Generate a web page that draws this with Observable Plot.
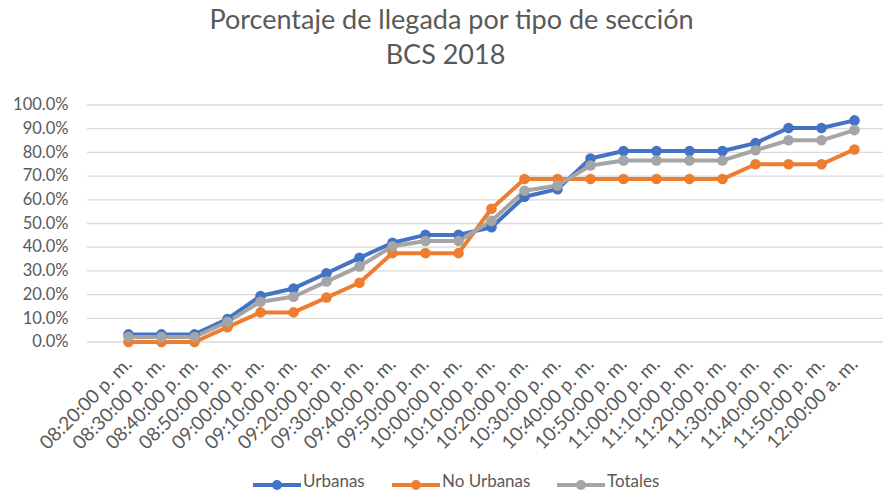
<!DOCTYPE html>
<html>
<head>
<meta charset="utf-8">
<script src="https://cdn.jsdelivr.net/npm/d3@7"></script>
<script src="https://cdn.jsdelivr.net/npm/@observablehq/plot@0.6"></script>
<style>
  html, body { margin: 0; padding: 0; background: #fff; }
  body { width: 883px; height: 492px; overflow: hidden; position: relative; font-family: Lato, "Open Sans", sans-serif; color: #595959; }
  #title { position: absolute; top: 1px; left: 0; width: 883px; text-align: center; font-size: 27px; line-height: 35px; color: #595959; }
  #title div { position: relative; }
  #chart { position: absolute; top: 80px; left: 0; }
  #legend { position: absolute; top: 471px; left: 0; width: 883px; height: 20px; font-size: 17px; line-height: 20px; color: #595959; }
  .item { position: absolute; top: 0; white-space: nowrap; }
  .item svg { vertical-align: top; }
</style>
</head>
<body>
<div id="title"><div style="left:10px">Porcentaje de llegada por tipo de sección</div><div style="left:4px">BCS 2018</div></div>
<div id="chart"></div>
<div id="legend"></div>
<script>
const times = ["08:20:00 p. m.", "08:30:00 p. m.", "08:40:00 p. m.", "08:50:00 p. m.", "09:00:00 p. m.", "09:10:00 p. m.", "09:20:00 p. m.", "09:30:00 p. m.", "09:40:00 p. m.", "09:50:00 p. m.", "10:00:00 p. m.", "10:10:00 p. m.", "10:20:00 p. m.", "10:30:00 p. m.", "10:40:00 p. m.", "10:50:00 p. m.", "11:00:00 p. m.", "11:10:00 p. m.", "11:20:00 p. m.", "11:30:00 p. m.", "11:40:00 p. m.", "11:50:00 p. m.", "12:00:00 a. m."];
const urbanas = [0.032, 0.032, 0.032, 0.097, 0.194, 0.226, 0.290, 0.355, 0.419, 0.452, 0.452, 0.484, 0.613, 0.645, 0.774, 0.806, 0.806, 0.806, 0.806, 0.839, 0.903, 0.903, 0.935];
const noUrbanas = [0, 0, 0, 0.0625, 0.125, 0.125, 0.1875, 0.25, 0.375, 0.375, 0.375, 0.5625, 0.6875, 0.6875, 0.6875, 0.6875, 0.6875, 0.6875, 0.6875, 0.75, 0.75, 0.75, 0.8125];
const totales = [0.021, 0.021, 0.021, 0.085, 0.170, 0.191, 0.255, 0.319, 0.404, 0.426, 0.426, 0.511, 0.638, 0.660, 0.745, 0.766, 0.766, 0.766, 0.766, 0.809, 0.851, 0.851, 0.894];
const seriesNames = ["Urbanas", "No Urbanas", "Totales"];
const seriesColors = ["#4472C4", "#ED7D31", "#A5A5A5"];
const yTicks = [0, 0.1, 0.2, 0.3, 0.4, 0.5, 0.6, 0.7, 0.8, 0.9, 1.0];

const seriesValues = [urbanas, noUrbanas, totales];
const data = [];
seriesNames.forEach((s, i) => times.forEach((t, j) => data.push({serie: s, time: t, value: seriesValues[i][j]})));

const W = 883, H = 390;
const fmt = d => (d * 100).toFixed(1) + "%";

const chart = Plot.plot({
  width: W,
  height: H,
  marginLeft: 87,
  marginRight: 0,
  marginTop: 24.5,
  marginBottom: 128.5,
  style: {fontFamily: "Lato, 'Open Sans', sans-serif", color: "#595959", background: "#fff"},
  x: {type: "point", domain: times, range: [105, 876]},
  y: {domain: [0, 1]},
  color: {domain: seriesNames, range: seriesColors},
  marks: [
    Plot.ruleY(yTicks, {stroke: "#d9d9d9", strokeWidth: 1.3}),
    Plot.axisY({ticks: yTicks, tickFormat: fmt, tickSize: 0, tickPadding: 19, fontSize: 16.5, fill: "#595959", label: null}),
    Plot.axisX({tickRotate: -45, tickSize: 0, tickPadding: 19, fontSize: 19, fill: "#595959", label: null}),
    ...seriesNames.map(s => Plot.line(data.filter(d => d.serie === s), {x: "time", y: "value", stroke: "serie", strokeWidth: 4, strokeLinejoin: "round"})),
    ...seriesNames.map(s => Plot.dot(data.filter(d => d.serie === s), {x: "time", y: "value", fill: "serie", r: 5.3, stroke: "none"}))
  ]
});
document.getElementById("chart").appendChild(chart);

const legend = document.getElementById("legend");
const lefts = [253, 392, 557];
seriesNames.forEach((s, i) => {
  const el = document.createElement("div");
  el.className = "item";
  el.style.left = lefts[i] + "px";
  el.innerHTML = `<svg width="50" height="20"><line x1="0" x2="48" y1="14" y2="14" stroke="${seriesColors[i]}" stroke-width="4"/><circle cx="24" cy="14" r="5" fill="${seriesColors[i]}"/></svg>${s}`;
  legend.appendChild(el);
});
</script>
</body>
</html>
